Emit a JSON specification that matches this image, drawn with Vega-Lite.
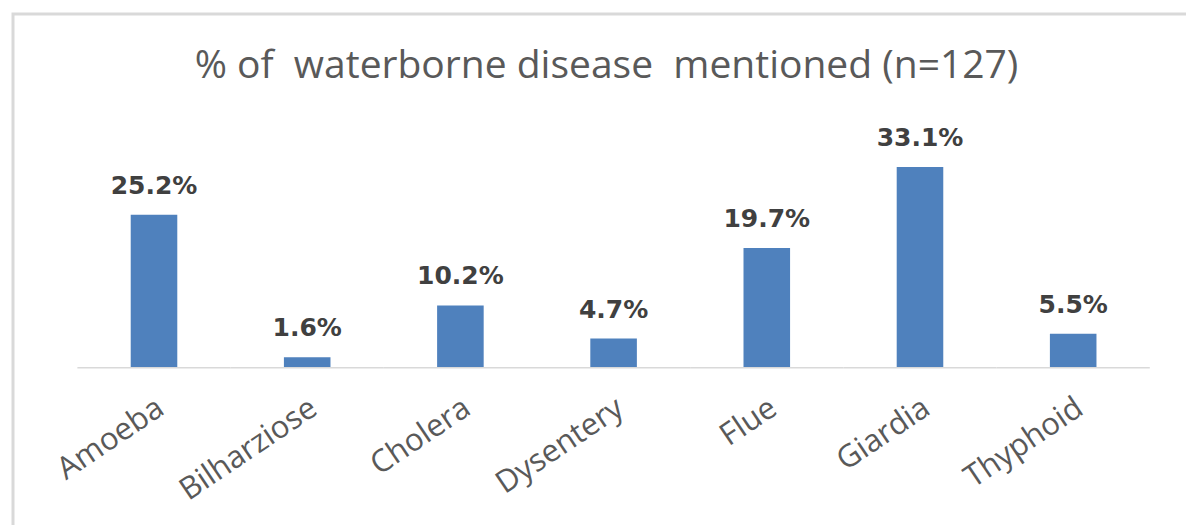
{
  "$schema": "https://vega.github.io/schema/vega-lite/v6.json",
  "width": 1173,
  "height": 511,
  "autosize": "none",
  "padding": {"left": 13, "top": 14, "right": 0, "bottom": 0},
  "background": "white",
  "title": {
    "text": "% of \u00a0waterborne disease \u00a0mentioned (n=127)",
    "font": "Open Sans",
    "fontSize": 39,
    "fontWeight": "normal",
    "color": "#595959",
    "anchor": "middle",
    "offset": -72,
    "dx": 7
  },
  "config": {
    "view": {
      "stroke": "#d9d9d9",
      "strokeWidth": 3,
      "strokeDash": [1173, 1684, 511, 10]
    }
  },
  "data": {
    "values": [
      {"disease": "Amoeba", "pct": 25.2, "label": "25.2%"},
      {"disease": "Bilharziose", "pct": 1.6, "label": "1.6%"},
      {"disease": "Cholera", "pct": 10.2, "label": "10.2%"},
      {"disease": "Dysentery", "pct": 4.7, "label": "4.7%"},
      {"disease": "Flue", "pct": 19.7, "label": "19.7%"},
      {"disease": "Giardia", "pct": 33.1, "label": "33.1%"},
      {"disease": "Thyphoid", "pct": 5.5, "label": "5.5%"}
    ]
  },
  "encoding": {
    "x": {
      "field": "disease",
      "type": "nominal",
      "sort": null,
      "scale": {"paddingInner": 0.696, "paddingOuter": 0.6764, "align": 0.568},
      "axis": {
        "title": null,
        "ticks": false,
        "domain": false,
        "offset": -158,
        "labelAngle": -34,
        "labelAlign": "right",
        "labelBaseline": "middle",
        "labelFont": "Open Sans",
        "labelFontSize": 31,
        "labelColor": "#595959",
        "labelPadding": 38,
        "labelOffset": 7
      }
    },
    "y": {
      "field": "pct",
      "type": "quantitative",
      "scale": {"domain": [-26.16, 58.44]},
      "axis": null
    }
  },
  "layer": [
    {
      "mark": {"type": "bar", "color": "#d9d9d9", "width": {"band": 3.29}},
      "encoding": {
        "y": {"datum": 0},
        "y2": {"datum": -0.25}
      }
    },
    {"mark": {"type": "bar", "color": "#4f81bd"}},
    {
      "mark": {
        "type": "text",
        "dy": -29,
        "font": "DejaVu Sans",
        "fontSize": 25,
        "fontWeight": "bold",
        "color": "#404040",
        "baseline": "middle"
      },
      "encoding": {"text": {"field": "label"}}
    }
  ]
}
